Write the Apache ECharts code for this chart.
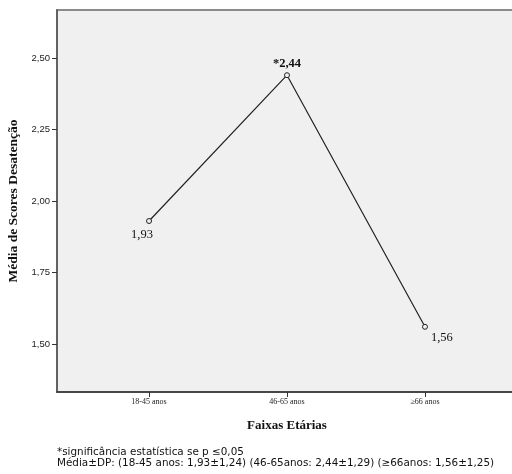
<!DOCTYPE html>
<html>
<head>
<meta charset="utf-8">
<script src="https://cdn.jsdelivr.net/npm/echarts@6/dist/echarts.min.js"></script>
<style>
  html, body { margin: 0; padding: 0; background: #fff; }
  #chart { width: 512px; height: 474px; }
</style>
</head>
<body>
<div id="chart"></div>
<script>
const categories = ['18-45 anos', '46-65 anos', '≥66 anos']
const means = [1.93, 2.44, 1.56]
const pointLabels = ['1,93', '*2,44', '1,56']
const yTicks = [1.50, 1.75, 2.00, 2.25, 2.50]
const footnotes = [
    '*significância estatística se p ≤0,05',
    'Média±DP: (18-45 anos: 1,93±1,24) (46-65anos: 2,44±1,29) (≥66anos: 1,56±1,25)'
]

const serif = '"Liberation Serif", "DejaVu Serif", serif'
const sans = '"DejaVu Sans", "Liberation Sans", sans-serif'

// label placement per point, SPSS style
const labelStyles = [
    { position: 'bottom', offset: [-7, -1], fontWeight: 'normal' },
    { position: 'top', offset: [0, 3], fontWeight: 'bold' },
    { position: 'right', offset: [-2, 11], fontWeight: 'normal' }
]

const chart = echarts.init(document.getElementById('chart'))

chart.setOption({
    animation: false,
    grid: {
        left: 57, top: 10, width: 460, height: 382,
        outerBoundsMode: 'none',
        containLabel: false,
        show: true,
        backgroundColor: '#f0f0f0',
        borderColor: '#8a8a8a',
        borderWidth: 2
    },
    xAxis: {
        type: 'value',
        min: -0.667,
        max: 2.667,
        name: 'Faixas Etárias',
        nameLocation: 'middle',
        nameGap: 27,
        nameTextStyle: { fontFamily: serif, fontWeight: 'bold', fontSize: 13, color: '#111' },
        splitLine: { show: false },
        axisLine: { onZero: false, lineStyle: { color: '#333', width: 1.5 } },
        axisTick: { customValues: [0, 1, 2], length: 5, lineStyle: { color: '#333' } },
        axisLabel: {
            customValues: [0, 1, 2],
            formatter: v => categories[Math.round(v)],
            fontFamily: serif, fontSize: 8, color: '#222', margin: 6
        }
    },
    yAxis: {
        type: 'value',
        min: 1.332,
        max: 2.668,
        name: 'Média de Scores Desatenção',
        nameLocation: 'middle',
        nameGap: 34,
        nameTextStyle: { fontFamily: serif, fontWeight: 'bold', fontSize: 13.5, color: '#111' },
        splitLine: { show: false },
        axisLine: { show: true, onZero: false, lineStyle: { color: '#555', width: 1.5 } },
        axisTick: { show: true, customValues: yTicks, length: 5, lineStyle: { color: '#333' } },
        axisLabel: {
            customValues: yTicks,
            formatter: v => v.toFixed(2).replace('.', ','),
            fontFamily: '"Liberation Sans Narrow", "Liberation Sans", sans-serif',
            fontSize: 9.5, color: '#222', margin: 7
        }
    },
    series: [
        {
            type: 'line',
            data: means.map((v, i) => ({
                value: [i, v],
                label: {
                    show: true,
                    formatter: pointLabels[i],
                    position: labelStyles[i].position,
                    offset: labelStyles[i].offset,
                    fontWeight: labelStyles[i].fontWeight,
                    fontFamily: serif,
                    fontSize: 12.5,
                    color: '#111'
                }
            })),
            symbol: 'circle',
            symbolSize: 5,
            itemStyle: { color: '#f0f0f0', borderColor: '#222', borderWidth: 1 },
            lineStyle: { color: '#222', width: 1.2 }
        }
    ],
    graphic: footnotes.map((t, i) => ({
        type: 'text',
        left: 57,
        top: 447 + i * 11,
        style: { text: t, fontFamily: sans, fontSize: 10.4, fill: '#111' }
    }))
})
</script>
</body>
</html>
